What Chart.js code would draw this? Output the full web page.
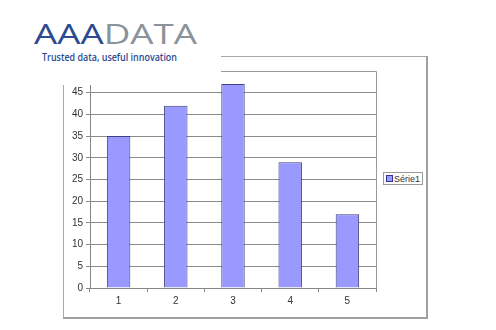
<!DOCTYPE html>
<html>
<head>
<meta charset="utf-8">
<script src="https://cdn.jsdelivr.net/npm/chart.js@4/dist/chart.umd.min.js"></script>
<style>
  html, body { margin: 0; padding: 0; background: #fff; }
  #wrap { position: relative; width: 496px; height: 330px; overflow: hidden; font-family: "Liberation Sans", Arial, sans-serif; }
  #frame { position: absolute; left: 63px; top: 56px; width: 362px; height: 260px; border: 1px solid #a8a8a8; border-right: 2px solid #a0a0a0; border-bottom: 2px solid #a0a0a0; }
  canvas { position: absolute; left: 0; top: 0; }
  #logo { position: absolute; left: 0; top: 0; width: 221px; height: 85px; background: #fff; }
  #legend { position: absolute; left: 383px; top: 172px; width: 40px; height: 13px; border: 1px solid #9a9a9a; background: #fff; font-size: 9px; color: #333; display: flex; align-items: center; box-sizing: border-box; padding-left: 2px; }
  #legend .sw { width: 5px; height: 5px; background: #9999ff; border: 1px solid #333399; margin-right: 1px; }
</style>
</head>
<body>
<div id="wrap">
  <div id="frame"></div>
  <canvas id="c" width="496" height="330"></canvas>
  <div id="logo">
    <svg width="221" height="85" xmlns="http://www.w3.org/2000/svg">
      <text x="34" y="44" font-family="Open Sans, DejaVu Sans" font-weight="400" font-size="28" textLength="163" lengthAdjust="spacingAndGlyphs"><tspan fill="#2b4a92">AAA</tspan><tspan fill="#8a939b">DATA</tspan></text>
      <text x="42" y="61" font-family="Open Sans, DejaVu Sans" font-weight="600" font-size="10" fill="#2b4a92" textLength="135" lengthAdjust="spacingAndGlyphs">Trusted data, useful innovation</text>
    </svg>
  </div>
  <div id="legend"></div>
</div>
<script>
const categories = ["1", "2", "3", "4", "5"];
const seriesName = "Série1";
const seriesValues = [35, 42, 47, 29, 17];
const yTicks = [0, 5, 10, 15, 20, 25, 30, 35, 40, 45, 50];

const borderPlugin = {
  id: 'plotBorder',
  afterDraw(chart) {
    const a = chart.chartArea, ctx = chart.ctx;
    ctx.save();
    ctx.strokeStyle = '#9a9a9a';
    ctx.lineWidth = 1;
    ctx.beginPath();
    ctx.moveTo(a.left, a.top + 0.5);
    ctx.lineTo(a.right + 0.5, a.top + 0.5);
    ctx.lineTo(a.right + 0.5, a.bottom);
    ctx.stroke();
    ctx.restore();
  }
};

new Chart(document.getElementById('c'), {
  type: 'bar',
  data: {
    labels: categories,
    datasets: [{
      label: seriesName,
      data: seriesValues,
      backgroundColor: '#9999ff',
      borderColor: '#3f3f80',
      borderWidth: 1,
      barPercentage: 0.41,
      categoryPercentage: 1
    }]
  },
  options: {
    responsive: false,
    animation: false,
    layout: { padding: { left: 0, right: 120, top: 71, bottom: 0 } },
    plugins: { legend: { display: false }, tooltip: { enabled: false } },
    scales: {
      x: {
        offset: true,
        grid: { offset: true, drawOnChartArea: false, tickLength: 4, color: '#888' },
        border: { color: '#888' },
        ticks: { font: { family: 'Liberation Sans', size: 10 }, color: '#333', padding: 3 },
        afterFit(s) { s.height = 42; }
      },
      y: {
        min: 0, max: 50,
        afterBuildTicks(s) { s.ticks = yTicks.map(v => ({ value: v })); },
        grid: { tickLength: 4, color: (c) => c.tick && c.tick.value === 50 ? 'rgba(0,0,0,0)' : '#8a8a8a' },
        border: { color: '#888' },
        ticks: { font: { family: 'Liberation Sans', size: 10 }, color: '#333', padding: 3,
                 callback: (v) => v === 50 ? '' : v },
        afterFit(s) { s.width = 90; }
      }
    }
  },
  plugins: [borderPlugin]
});

document.getElementById('legend').innerHTML = '<span class="sw"></span>' + seriesName;
</script>
</body>
</html>
